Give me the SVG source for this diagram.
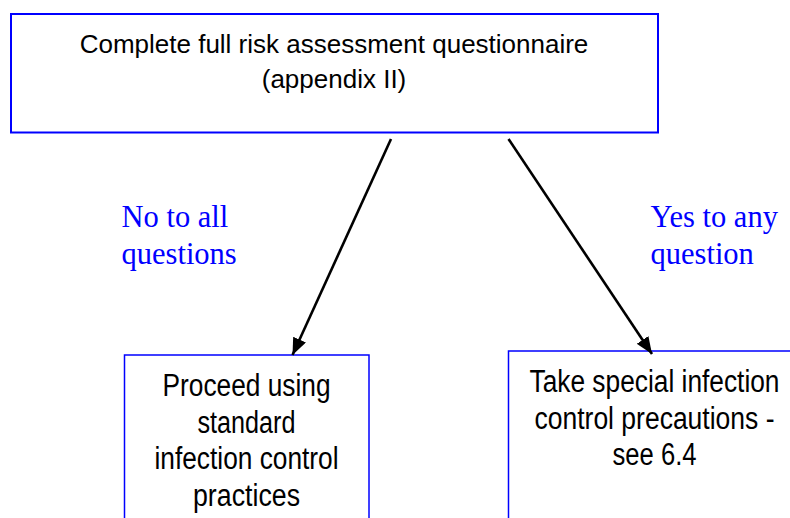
<svg xmlns="http://www.w3.org/2000/svg" width="790" height="518" viewBox="0 0 790 518">
  <style>
    .box { fill: #ffffff; stroke: #0000ff; }
    .t1 { font-family: "Liberation Sans", Arial, sans-serif; font-size: 26px; fill: #000000; text-anchor: middle; }
    .t2 { font-family: "Liberation Sans", Arial, sans-serif; font-size: 31px; fill: #000000; text-anchor: middle; }
    .lbl { font-family: "Liberation Serif", "Times New Roman", serif; font-size: 30.5px; fill: #0000ff; }
    .conn { stroke: #000000; stroke-width: 2.6; fill: none; marker-end: url(#arrow); }
  </style>
  <defs>
    <marker id="arrow" markerUnits="userSpaceOnUse" markerWidth="18" markerHeight="15" refX="17" refY="7" orient="auto">
      <path d="M0,0 L17,7 L0,14 z" fill="#000000"/>
    </marker>
  </defs>
  <rect width="790" height="518" fill="#ffffff"/>

  <g id="node-assess">
    <rect class="box" x="11" y="14" width="647" height="118.5" stroke-width="2"/>
    <text class="t1" x="334" y="53">Complete full risk assessment questionnaire</text>
    <text class="t1" x="334" y="87.5">(appendix II)</text>
  </g>

  <g id="node-standard">
    <rect class="box" x="124.5" y="355" width="244.5" height="180" stroke-width="1.5"/>
    <text class="t2" x="246.5" y="396" textLength="168" lengthAdjust="spacingAndGlyphs">Proceed using</text>
    <text class="t2" x="246.5" y="432.5" textLength="98" lengthAdjust="spacingAndGlyphs">standard</text>
    <text class="t2" x="246.5" y="469" textLength="184" lengthAdjust="spacingAndGlyphs">infection control</text>
    <text class="t2" x="246.5" y="505.5" textLength="107" lengthAdjust="spacingAndGlyphs">practices</text>
  </g>

  <g id="node-special">
    <rect class="box" x="508.5" y="351" width="300" height="190" stroke-width="1.5"/>
    <text class="t2" x="654.5" y="392" textLength="250" lengthAdjust="spacingAndGlyphs">Take special infection</text>
    <text class="t2" x="654.5" y="428.5" textLength="240" lengthAdjust="spacingAndGlyphs">control precautions -</text>
    <text class="t2" x="654.5" y="465" textLength="84" lengthAdjust="spacingAndGlyphs">see 6.4</text>
  </g>

  <g id="connectors">
    <line class="conn" x1="391" y1="139" x2="292.5" y2="355"/>
    <line class="conn" x1="508.5" y1="139" x2="652" y2="354"/>
    <text class="lbl" x="121.5" y="227">No to all</text>
    <text class="lbl" x="121.5" y="264">questions</text>
    <text class="lbl" x="650.5" y="227">Yes to any</text>
    <text class="lbl" x="650.5" y="264">question</text>
  </g>
</svg>
